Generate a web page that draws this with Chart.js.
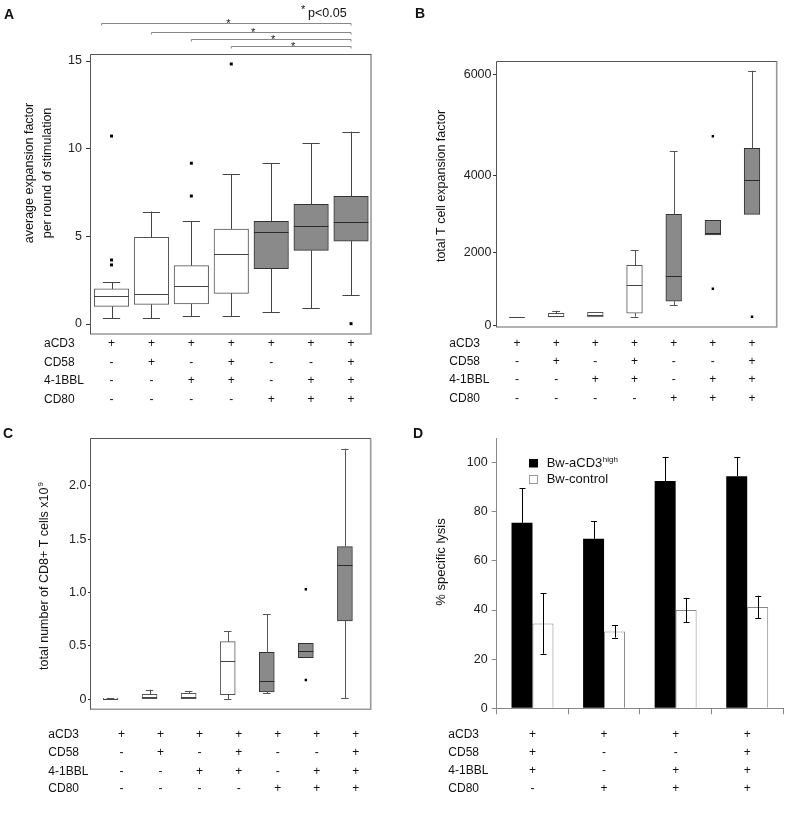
<!DOCTYPE html>
<html><head><meta charset="utf-8">
<script src="https://cdn.jsdelivr.net/npm/chart.js@4.4.1/dist/chart.umd.min.js"></script>
<style>
html,body{margin:0;padding:0;background:#fff;}
#wrap{position:relative;width:800px;height:817px;overflow:hidden;background:#fff;}
.p{position:absolute;}
</style></head><body>
<div id="wrap">
<div class="p" style="left:0;top:0;width:400px;height:410px"><canvas id="cA"></canvas></div>
<div class="p" style="left:400px;top:0;width:400px;height:410px"><canvas id="cB"></canvas></div>
<div class="p" style="left:0;top:410px;width:400px;height:407px"><canvas id="cC"></canvas></div>
<div class="p" style="left:400px;top:410px;width:400px;height:407px"><canvas id="cD"></canvas></div>
</div>
<script>
// ---------------- data ----------------
const ROW_LABELS = ['aCD3', 'CD58', '4-1BBL', 'CD80'];
const SIGNS_7 = [
  ['+', '+', '+', '+', '+', '+', '+'],
  ['-', '+', '-', '+', '-', '-', '+'],
  ['-', '-', '+', '+', '-', '+', '+'],
  ['-', '-', '-', '-', '+', '+', '+']
];
const SIGNS_D = [
  ['+', '+', '+', '+'],
  ['+', '-', '-', '+'],
  ['+', '-', '+', '+'],
  ['-', '+', '+', '+']
];
const GRAY_GROUP = [false, false, false, false, true, true, true];

// Panel A: average expansion factor per round of stimulation
const A_LOW  = [0.33, 0.33, 0.46, 0.46, 0.67, 0.90, 1.64];
const A_Q1   = [1.01, 1.12, 1.14, 1.75, 3.15, 4.20, 4.73];
const A_MED  = [1.60, 1.69, 2.15, 3.98, 5.23, 5.61, 5.80];
const A_Q3   = [2.00, 4.95, 3.33, 5.42, 5.86, 6.83, 7.28];
const A_HIGH = [2.38, 6.41, 5.86, 8.54, 9.17, 10.31, 10.97];
const A_OUT  = [[3.65, 3.37, 10.72], [], [9.17, 7.30], [14.83], [], [], [0.02]];
const A_TICKS = [0, 5, 10, 15];
const A_SIG_FROM = [-0.25, 1, 2, 3];
const A_SIG_TO = 6;

// Panel B: total T cell expansion factor
const B_LOW  = [250, 246, 246, 254, 573, 2462, 3001];
const B_Q1   = [250, 246, 246, 347, 674, 2462, 3001];
const B_MED  = [250, 273, 290, 1111, 1365, 2522, 3888];
const B_Q3   = [250, 347, 374, 1657, 3001, 2845, 4545];
const B_HIGH = [250, 418, 374, 2063, 4492, 2845, 6071];
const B_OUT  = [[], [], [], [], [], [4781, 1018], [254]];
const B_TICKS = [0, 2000, 4000, 6000];

// Panel C: total number of CD8+ T cells x10^9
const C_LOW  = [0.003, 0.0, 0.0, 0.0, 0.056, 0.39, 0.01];
const C_Q1   = [0.003, 0.0, 0.0, 0.043, 0.068, 0.39, 0.733];
const C_MED  = [0.005, 0.025, 0.025, 0.356, 0.171, 0.449, 1.255];
const C_Q3   = [0.008, 0.047, 0.056, 0.54, 0.44, 0.524, 1.429];
const C_HIGH = [0.01, 0.09, 0.075, 0.637, 0.796, 0.524, 2.347];
const C_OUT  = [[], [], [], [], [], [1.03, 0.18], []];
const C_TICKS = [0, 0.5, 1.0, 1.5, 2.0];

// Panel D: % specific lysis
const D_GROUPS = ['aCD3+CD58+4-1BBL', 'aCD3+CD80', 'aCD3+4-1BBL+CD80', 'aCD3+CD58+4-1BBL+CD80'];
const D_SERIES = ['Bw-aCD3', 'Bw-control'];
const D_BLACK = [75.5, 69.0, 92.5, 94.4];
const D_BLACK_ERR = [14.0, 7.2, 9.8, 7.9];
const D_WHITE = [34.5, 31.3, 40.0, 41.2];
const D_WHITE_ERR = [12.3, 2.5, 4.9, 4.6];
const D_TICKS = [0, 20, 40, 60, 80, 100];

// ---------------- helpers ----------------
const FONT = '"Liberation Sans", Arial, Helvetica, sans-serif';
const TXT = '#111';

// B axis in the source is not evenly spaced between its tick labels
const B_AXIS_VALUES = [-27, 0, 2000, 4000, 6000, 6262];
const B_AXIS_DECIMALS = [0, 0.0038, 0.2793, 0.5677, 0.95, 1];
function pwDec(v) {
  const V = B_AXIS_VALUES, D = B_AXIS_DECIMALS;
  let i = 0;
  while (i < V.length - 2 && v > V[i + 1]) i++;
  return D[i] + (v - V[i]) / (V[i + 1] - V[i]) * (D[i + 1] - D[i]);
}
function pwVal(d) {
  const V = B_AXIS_VALUES, D = B_AXIS_DECIMALS;
  let i = 0;
  while (i < D.length - 2 && d > D[i + 1]) i++;
  return V[i] + (d - D[i]) / (D[i + 1] - D[i]) * (V[i + 1] - V[i]);
}
class PiecewiseScale extends Chart.LinearScale {
  static id = 'piecewise';
  static defaults = Chart.LinearScale.defaults;
  getPixelForValue(value) {
    return value === null || value === undefined ? NaN : this.getPixelForDecimal(pwDec(value));
  }
  getValueForPixel(pixel) {
    return pwVal(this.getDecimalForPixel(pixel));
  }
}
Chart.register(PiecewiseScale);

function hline(ctx, x1, x2, y) {
  const yy = Math.round(y) + 0.5;
  ctx.beginPath(); ctx.moveTo(x1, yy); ctx.lineTo(x2, yy); ctx.stroke();
}
function vline(ctx, x, y1, y2) {
  const xx = Math.round(x) + 0.5;
  ctx.beginPath(); ctx.moveTo(xx, y1); ctx.lineTo(xx, y2); ctx.stroke();
}

function textPlugin(items) {
  return {
    id: 'texts',
    afterDraw(chart) {
      const ctx = chart.ctx;
      items.forEach(it => {
        ctx.save();
        ctx.fillStyle = it.color || TXT;
        ctx.font = it.font;
        ctx.textBaseline = it.base || 'middle';
        ctx.translate(it.x, it.y);
        if (it.rot) ctx.rotate(it.rot);
        const lines = Array.isArray(it.t) ? it.t : [it.t];
        lines.forEach((ln, k) => {
          const w = ctx.measureText(ln).width;
          let sw = 0;
          if (it.sup) {
            ctx.font = it.supFont;
            sw = ctx.measureText(it.sup).width + 1;
            ctx.font = it.font;
          }
          let start = 0;
          if (it.align === 'center') start = -(w + sw) / 2;
          ctx.textAlign = 'left';
          ctx.fillText(ln, start, k * (it.lh || 0));
          if (it.sup) {
            ctx.font = it.supFont;
            ctx.fillText(it.sup, start + w + 1, k * (it.lh || 0) - (it.supRise || 4));
            ctx.font = it.font;
          }
        });
        ctx.restore();
      });
    }
  };
}

function tablePlugin(signs, rowYs, labelX, xOf) {
  return {
    id: 'table',
    afterDraw(chart) {
      const ctx = chart.ctx;
      const xs = chart.scales.x;
      ctx.save();
      ctx.fillStyle = TXT;
      ctx.font = '12px ' + FONT;
      ctx.textBaseline = 'middle';
      ROW_LABELS.forEach((lab, r) => {
        ctx.textAlign = 'left';
        ctx.fillText(lab, labelX, rowYs[r]);
        ctx.textAlign = 'center';
        signs[r].forEach((s, i) => {
          ctx.fillText(s, xOf(xs, i), rowYs[r]);
        });
      });
      ctx.restore();
    }
  };
}

const framePlugin = {
  id: 'frame',
  afterDatasetsDraw(chart) {
    const {ctx, chartArea: a} = chart;
    ctx.save();
    ctx.strokeStyle = '#9a9a9a'; ctx.lineWidth = 1.6;
    ctx.beginPath(); ctx.moveTo(a.right, a.top); ctx.lineTo(a.right, a.bottom); ctx.lineTo(a.left, a.bottom); ctx.stroke();
    ctx.strokeStyle = '#555'; ctx.lineWidth = 1;
    ctx.beginPath();
    ctx.moveTo(Math.round(a.left) + 0.5, a.bottom); ctx.lineTo(Math.round(a.left) + 0.5, Math.round(a.top) + 0.5);
    ctx.lineTo(a.right, Math.round(a.top) + 0.5); ctx.stroke();
    ctx.restore();
  }
};

function boxPlugin(d) {
  return {
    id: 'boxparts',
    afterDatasetsDraw(chart) {
      const {ctx, scales: {x, y}} = chart;
      ctx.save();
      ctx.lineWidth = 1;
      for (let i = 0; i < d.q1.length; i++) {
        const cx = x.getPixelForValue(i);
        const hw = d.bw / 2, cw = d.bw / 4;
        const yq1 = y.getPixelForValue(d.q1[i]), yq3 = y.getPixelForValue(d.q3[i]);
        const ylo = y.getPixelForValue(d.lo[i]), yhi = y.getPixelForValue(d.hi[i]);
        ctx.strokeStyle = d.whisk;
        if (d.hi[i] > d.q3[i]) { vline(ctx, cx, yq3, yhi); hline(ctx, cx - cw, cx + cw, yhi); }
        if (d.lo[i] < d.q1[i]) { vline(ctx, cx, yq1, ylo); hline(ctx, cx - cw, cx + cw, ylo); }
        ctx.strokeStyle = GRAY_GROUP[i] ? '#2a2a2a' : '#444';
        hline(ctx, cx - hw, cx + hw, y.getPixelForValue(d.med[i]));
      }
      ctx.restore();
    }
  };
}

function boxChart(id, d) {
  const boxes = d.q1.map((q, i) => ({x: i, y: [q, d.q3[i]]}));
  const outl = [];
  d.out.forEach((arr, i) => arr.forEach(v => outl.push({x: i, y: v})));
  return new Chart(document.getElementById(id), {
    type: 'bar',
    data: {datasets: [
      {type: 'bar', data: boxes, order: 2,
       backgroundColor: GRAY_GROUP.map(g => g ? '#8a8a8a' : '#ffffff'),
       borderColor: GRAY_GROUP.map(g => g ? '#333' : '#555'),
       borderWidth: 1, borderSkipped: false, barThickness: d.bw},
      {type: 'scatter', data: outl, order: 1, pointStyle: 'rect', pointRadius: d.pr,
       backgroundColor: '#000', borderWidth: 0}
    ]},
    options: {
      responsive: true, maintainAspectRatio: false, animation: false, events: [],
      layout: {padding: d.pad},
      plugins: {legend: {display: false}, tooltip: {enabled: false}},
      scales: {
        x: {type: 'linear', display: false, min: d.xmin, max: d.xmax, offset: false},
        y: {type: d.ytype || 'linear', min: d.ymin, max: d.ymax,
            afterFit: s => { s.width = d.yw; },
            afterBuildTicks: s => { s.ticks = d.ticks.map(v => ({value: v})); },
            ticks: {callback: d.fmt, font: {family: FONT, size: 12.5}, color: '#222', padding: d.tp},
            grid: {drawOnChartArea: false, tickLength: d.tl, tickColor: '#333', tickWidth: 1},
            border: {display: false}}
      }
    },
    plugins: [framePlugin, boxPlugin(d), tablePlugin(SIGNS_7, d.rows, d.labelX, d.xOf), textPlugin(d.texts)]
  });
}

const at = (xs, i) => xs.getPixelForValue(i);

// ---------------- Panel A ----------------
const sigPlugin = {
  id: 'sig',
  afterDraw(chart) {
    const {ctx, scales: {x}} = chart;
    const ys = [23, 32, 39, 46];
    ctx.save();
    ctx.strokeStyle = '#888'; ctx.lineWidth = 1; ctx.fillStyle = TXT;
    A_SIG_FROM.forEach((f, k) => {
      const x1 = x.getPixelForValue(f), x2 = x.getPixelForValue(A_SIG_TO);
      const y = ys[k] + 0.5;
      ctx.beginPath(); ctx.moveTo(x1, y + 2); ctx.lineTo(x1, y); ctx.lineTo(x2, y); ctx.lineTo(x2, y + 2); ctx.stroke();
      ctx.font = '11px ' + FONT; ctx.textAlign = 'center'; ctx.textBaseline = 'alphabetic';
      ctx.fillText('*', (x1 + x2) / 2 + 2, y + 3.5);
    });
    ctx.restore();
  }
};
const chartA = boxChart('cA', {
  lo: A_LOW, q1: A_Q1, med: A_MED, q3: A_Q3, hi: A_HIGH, out: A_OUT,
  bw: 34.5, pr: 2.1, whisk: '#444',
  pad: {top: 54, right: 29, bottom: 76, left: 0}, yw: 90,
  xmin: -0.539, xmax: 6.5, ymin: -0.57, ymax: 15.4,
  ticks: A_TICKS, fmt: v => String(v), tl: 4, tp: 4,
  rows: [344, 362.7, 381, 399.3], labelX: 44, xOf: at,
  texts: [
    {t: 'A', x: 4, y: 19, font: 'bold 14px ' + FONT, base: 'alphabetic'},
    {t: ['average expansion factor', 'per round of stimulation'], x: 30, y: 173, rot: -Math.PI / 2,
     align: 'center', lh: 17.5, font: '12.5px ' + FONT},
    {t: 'p<0.05', x: 308, y: 17, font: '12.5px ' + FONT, base: 'alphabetic'},
    {t: '*', x: 301, y: 13, font: '11px ' + FONT, base: 'alphabetic'}
  ]
});
chartA.config.plugins.push(sigPlugin);
chartA.update();

// ---------------- Panel B ----------------
boxChart('cB', {
  lo: B_LOW, q1: B_Q1, med: B_MED, q3: B_Q3, hi: B_HIGH, out: B_OUT,
  bw: 15.7, pr: 1.7, whisk: '#555', ytype: 'piecewise',
  pad: {top: 61, right: 23.3, bottom: 83, left: 0}, yw: 96,
  xmin: -0.536, xmax: 6.63, ymin: -27, ymax: 6262,
  ticks: B_TICKS, fmt: v => String(v), tl: 3, tp: 1.5,
  rows: [343.3, 361.7, 380, 398.3], labelX: 49.3, xOf: at,
  texts: [
    {t: 'B', x: 15, y: 18, font: 'bold 14px ' + FONT, base: 'alphabetic'},
    {t: 'total T cell expansion factor', x: 41.5, y: 186, rot: -Math.PI / 2, align: 'center', font: '12.5px ' + FONT}
  ]
});

// ---------------- Panel C ----------------
boxChart('cC', {
  lo: C_LOW, q1: C_Q1, med: C_MED, q3: C_Q3, hi: C_HIGH, out: C_OUT,
  bw: 15, pr: 1.7, whisk: '#555',
  pad: {top: 28.3, right: 29.3, bottom: 107.7, left: 0}, yw: 90,
  xmin: -0.525, xmax: 6.66, ymin: -0.094, ymax: 2.444,
  ticks: C_TICKS, fmt: v => (v === 0 ? '0' : v.toFixed(1)), tl: 2, tp: 1.5,
  rows: [324.3, 342.3, 361.7, 379], labelX: 48.3, xOf: (xs, i) => xs.getPixelForValue(i + 0.28),
  texts: [
    {t: 'C', x: 3, y: 28, font: 'bold 14px ' + FONT, base: 'alphabetic'},
    {t: 'total number of CD8+ T cells x10', sup: '9', supFont: '8px ' + FONT, supRise: 4,
     x: 45, y: 166, rot: -Math.PI / 2, align: 'center', font: '12.5px ' + FONT}
  ]
});

// ---------------- Panel D ----------------
const errPlugin = {
  id: 'err',
  afterDatasetsDraw(chart) {
    const {ctx, scales: {y}} = chart;
    const specs = [[D_BLACK, D_BLACK_ERR, false], [D_WHITE, D_WHITE_ERR, true]];
    ctx.save();
    ctx.strokeStyle = '#000'; ctx.lineWidth = 1;
    specs.forEach(([vals, errs, both], di) => {
      const meta = chart.getDatasetMeta(di);
      meta.data.forEach((el, i) => {
        const cx = el.x;
        const yt = y.getPixelForValue(vals[i] + errs[i]);
        const yb = both ? y.getPixelForValue(vals[i] - errs[i]) : y.getPixelForValue(vals[i]);
        vline(ctx, cx, yb, yt);
        hline(ctx, cx - 2.5, cx + 3.5, yt);
        if (both) hline(ctx, cx - 2.5, cx + 3.5, yb);
      });
    });
    ctx.restore();
  }
};
const legendD = {
  id: 'legendD',
  afterDraw(chart) {
    const ctx = chart.ctx;
    ctx.save();
    ctx.fillStyle = '#000';
    ctx.fillRect(129, 49, 9, 8.5);
    ctx.fillStyle = '#fff'; ctx.strokeStyle = '#999'; ctx.lineWidth = 1;
    ctx.fillRect(129.5, 65.5, 8, 8); ctx.strokeRect(129.5, 65.5, 8, 8);
    ctx.fillStyle = TXT; ctx.textBaseline = 'middle'; ctx.textAlign = 'left';
    ctx.font = '13px ' + FONT;
    ctx.fillText(D_SERIES[0], 146.7, 53.5);
    const w = ctx.measureText(D_SERIES[0]).width;
    ctx.font = '8px ' + FONT;
    ctx.fillText('high', 146.7 + w + 0.5, 50);
    ctx.font = '13px ' + FONT;
    ctx.fillText(D_SERIES[1], 146.7, 69.5);
    ctx.restore();
  }
};
new Chart(document.getElementById('cD'), {
  type: 'bar',
  data: {labels: D_GROUPS, datasets: [
    {label: D_SERIES[0] + 'high', data: D_BLACK, backgroundColor: '#000', borderWidth: 0},
    {label: D_SERIES[1], data: D_WHITE, backgroundColor: '#fff', borderColor: '#888', borderWidth: 1, borderSkipped: 'bottom'}
  ]},
  options: {
    responsive: true, maintainAspectRatio: false, animation: false, events: [],
    categoryPercentage: 0.586, barPercentage: 1,
    layout: {padding: {top: 28, right: 17, bottom: 0, left: 0}},
    plugins: {legend: {display: false}, tooltip: {enabled: false}},
    scales: {
      x: {type: 'category', offset: true,
          afterFit: s => { s.height = 108.7; },
          ticks: {display: false},
          grid: {drawOnChartArea: false, offset: true, tickLength: 6, tickColor: '#888'},
          border: {display: true, color: '#888'}},
      y: {min: 0, max: 110,
          afterFit: s => { s.width = 96.7; },
          afterBuildTicks: s => { s.ticks = D_TICKS.map(v => ({value: v})); },
          ticks: {font: {family: FONT, size: 12.5}, color: '#222', padding: 4},
          grid: {drawOnChartArea: false, tickLength: 5, tickColor: '#888'},
          border: {display: true, color: '#888'}}
    }
  },
  plugins: [errPlugin, legendD, tablePlugin(SIGNS_D, [324.3, 342.3, 361, 379], 48.3, at),
    textPlugin([
      {t: 'D', x: 13, y: 28, font: 'bold 14px ' + FONT, base: 'alphabetic'},
      {t: '% specific lysis', x: 41.7, y: 152, rot: -Math.PI / 2, align: 'center', font: '13px ' + FONT}
    ])]
});
</script>
</body></html>
